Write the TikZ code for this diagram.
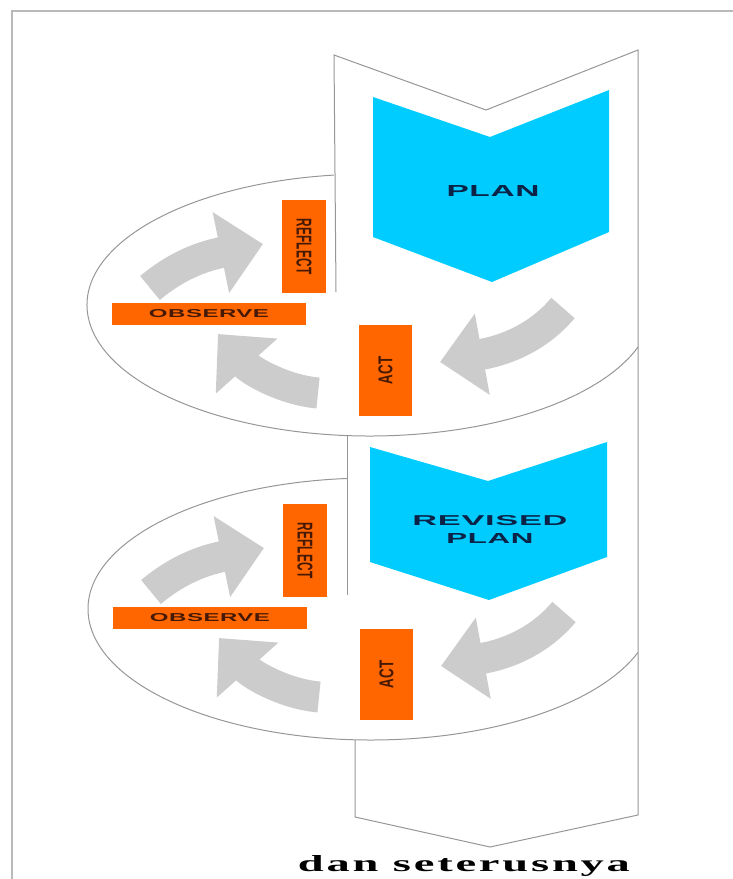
\documentclass[tikz,border=0pt]{standalone}
\usepackage{fontspec}
\usepackage{graphicx}
\usepackage{xcolor}
\usepackage{tikz}
\usetikzlibrary{arrows.meta}
\setmainfont{Liberation Serif}
\newfontfamily\labelfont[LetterSpace=2]{Liberation Sans}
\newfontfamily\tailfont[LetterSpace=6]{Liberation Serif}
\definecolor{planblue}{RGB}{0,204,255}
\definecolor{boxorange}{RGB}{255,102,0}
\definecolor{arrowgray}{RGB}{204,204,204}
\definecolor{linegray}{RGB}{150,150,150}
\definecolor{framegray}{RGB}{185,185,185}
\definecolor{planink}{RGB}{10,35,70}
\definecolor{boxink}{RGB}{70,25,5}
\newcommand{\boxlabel}[3]{\resizebox{#1pt}{#2pt}{\labelfont\bfseries #3}}

\begin{document}
\begin{tikzpicture}[x=1pt,y=-1pt,
        obox/.style={fill=boxorange,text=boxink,inner sep=0pt,outer sep=0pt},
        grayarrow/.style={draw=arrowgray,line width=31pt,-{Triangle[length=43pt,width=80pt]}},
        outline/.style={draw=linegray,line width=1pt}]
    \useasboundingbox (0,0) rectangle (733,879);
    \draw[framegray,line width=2pt] (12,879) -- (12,11) -- (733,11);

    % band
    \draw[outline] (336,292) -- (334,55) -- (486,110) -- (638,50) -- (638,815)
        -- (490,847) -- (355,817) -- (355,740);
    \draw[outline] (347,436) -- (347,595);

    \fill[planblue] (373,97) -- (490,137) -- (609,90) -- (609,232) -- (492,282) -- (373,237) -- cycle;
    \fill[planblue] (370,447) -- (488,481) -- (607,442) -- (607,557) -- (489,600) -- (370,562) -- cycle;
    \node[text=planink] (plan) at (493,191) {\boxlabel{93}{11}{PLAN}};
    \node[text=planink,align=center,font=\fontsize{12}{18}\selectfont] (revplan) at (490,529)
        {\boxlabel{155}{10}{REVISED}\\\boxlabel{87}{10}{PLAN}};

    \foreach \i/\dx/\dy/\ta/\tb in {1/0/0/262.7/18.7, 2/1/304/265.1/19.4} {
        \begin{scope}[shift={(\dx,\dy)}]
            \draw[outline] (370,305) ++(\ta:283 and 131)
                arc[start angle=\ta,end angle=\tb,x radius=283,y radius=131];
            \coordinate (pa\i) at (563,308);
            \coordinate (qa\i) at (440,362);
            \coordinate (pb\i) at (318,393);
            \coordinate (qb\i) at (218,334);
            \coordinate (pc\i) at (150,288);
            \coordinate (qc\i) at (263,244);
            \draw[grayarrow] (pa\i) .. controls (531,346) and (489,353) .. (qa\i);
            \draw[grayarrow] (pb\i) .. controls (284,390) and (251,371) .. (qb\i);
            \draw[grayarrow] (pc\i) .. controls (181,262) and (209,255) .. (qc\i);
            \node[obox,minimum width=194pt,minimum height=22pt] (obs\i) at (209,314)
                {\boxlabel{120}{8}{OBSERVE}};
            \node[obox,rotate=-90,minimum width=93pt,minimum height=44pt] (refl\i) at (304,246.5)
                {\boxlabel{56}{15}{REFLECT}};
            \node[obox,rotate=90,minimum width=91pt,minimum height=53pt] (act\i) at (385.5,370.5)
                {\boxlabel{28}{14}{ACT}};
        \end{scope}
    }

    \node[anchor=base] (next) at (464,871) {\resizebox{332pt}{16pt}{\tailfont\bfseries dan seterusnya}};
\end{tikzpicture}
\end{document}
